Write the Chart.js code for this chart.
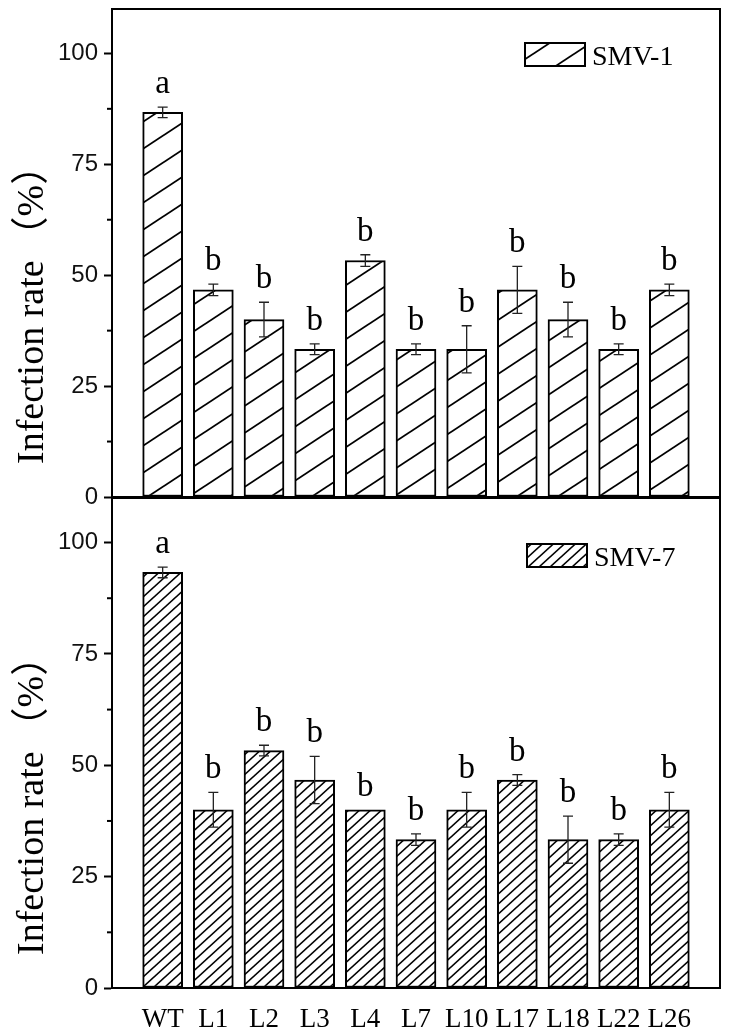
<!DOCTYPE html>
<html>
<head>
<meta charset="utf-8">
<script src="https://cdn.jsdelivr.net/npm/chart.js@4.4.1/dist/chart.umd.min.js"></script>
<style>
  html, body { margin: 0; padding: 0; background: #fff; }
  #wrap { position: relative; width: 733px; height: 1034px; }
  canvas { position: absolute; left: 0; }
</style>
</head>
<body>
<div id="wrap">
  <canvas id="topChart" width="733" height="515" style="top:0"></canvas>
  <canvas id="bottomChart" width="733" height="537" style="top:497px"></canvas>
</div>
<script>
const categories = ['WT', 'L1', 'L2', 'L3', 'L4', 'L7', 'L10', 'L17', 'L18', 'L22', 'L26'];
const smv1Values = [86.7, 46.7, 40.0, 33.3, 53.3, 33.3, 33.3, 46.7, 40.0, 33.3, 46.7];
const smv1Errors = [1.2, 1.3, 3.9, 1.2, 1.3, 1.2, 5.3, 5.3, 3.9, 1.2, 1.3];
const smv1Letters = ['a', 'b', 'b', 'b', 'b', 'b', 'b', 'b', 'b', 'b', 'b'];
const smv7Values = [93.3, 40.0, 53.3, 46.7, 40.0, 33.3, 40.0, 46.7, 33.3, 33.3, 40.0];
const smv7Errors = [1.2, 3.9, 1.2, 5.3, 0, 1.3, 3.9, 1.2, 5.3, 1.3, 3.9];
const smv7Letters = ['a', 'b', 'b', 'b', 'b', 'b', 'b', 'b', 'b', 'b', 'b'];
const yLabelTicks = [0, 25, 50, 75, 100];
const yTitleMain = 'Infection rate';
const yTitleUnit = '（%）';

const serif = '"Liberation Serif", "Times New Roman", "Noto Sans CJK SC", serif';
const sans = '"Liberation Sans", Arial, sans-serif';

// diagonal hatch tile
function hatch(w, h, lw) {
  const c = document.createElement('canvas');
  c.width = w; c.height = h;
  const g = c.getContext('2d');
  g.fillStyle = '#fff';
  g.fillRect(0, 0, w, h);
  g.strokeStyle = '#000';
  g.lineWidth = lw;
  for (const k of [-1, 0, 1]) {
    g.beginPath();
    g.moveTo(-w, 2 * h + k * h);
    g.lineTo(2 * w, -h + k * h);
    g.stroke();
  }
  return g.createPattern(c, 'repeat');
}

const panelPlugin = {
  id: 'panel',
  afterDatasetsDraw(chart, args, opts) {
    const ctx = chart.ctx;
    const x = chart.scales.x, y = chart.scales.y;
    const area = chart.chartArea;
    ctx.save();
    // error bars
    ctx.strokeStyle = '#222';
    ctx.lineWidth = 1.3;
    opts.values.forEach((v, i) => {
      const e = opts.errors[i];
      if (!e) return;
      const cx = x.getPixelForValue(i + 1);
      const yt = y.getPixelForValue(v + e), yb = y.getPixelForValue(v - e);
      ctx.beginPath();
      ctx.moveTo(cx, yt); ctx.lineTo(cx, yb);
      ctx.moveTo(cx - 5, yt); ctx.lineTo(cx + 5, yt);
      ctx.moveTo(cx - 5, yb); ctx.lineTo(cx + 5, yb);
      ctx.stroke();
    });
    // significance letters
    ctx.fillStyle = '#000';
    ctx.font = '33px ' + serif;
    ctx.textAlign = 'center';
    ctx.textBaseline = 'alphabetic';
    opts.values.forEach((v, i) => {
      const cx = x.getPixelForValue(i + 1);
      const yt = y.getPixelForValue(v + opts.errors[i]);
      ctx.fillText(opts.letters[i], cx, yt - 14);
    });
    // minor ticks
    ctx.strokeStyle = '#000';
    ctx.lineWidth = 2;
    for (let t = 12.5; t < 110; t += 25) {
      const py = y.getPixelForValue(t);
      ctx.beginPath();
      ctx.moveTo(area.left - 5, py); ctx.lineTo(area.left, py);
      ctx.stroke();
    }
    // frame
    ctx.strokeRect(area.left, area.top, area.right - area.left, area.bottom - area.top);
    // legend
    const lx = area.left + opts.legendX, ly = area.top + opts.legendY;
    ctx.fillStyle = chart.data.datasets[0].backgroundColor;
    ctx.fillRect(lx, ly, 60, 23);
    ctx.lineWidth = 2;
    ctx.strokeRect(lx, ly, 60, 23);
    ctx.fillStyle = '#000';
    ctx.font = '28px ' + serif;
    ctx.textAlign = 'left';
    ctx.fillText(chart.data.datasets[0].label, lx + 67, ly + 22);
    // y title
    ctx.translate(43, area.bottom - 33);
    ctx.rotate(-Math.PI / 2);
    ctx.font = '38px ' + serif;
    ctx.textAlign = 'left';
    const w = ctx.measureText(yTitleMain).width;
    ctx.fillText(yTitleMain, 0, 0);
    ctx.fillText(yTitleUnit, w + 6, 0);
    ctx.restore();
  }
};

function panel(id, label, values, errors, letters, pattern, showX, pad, legendPos) {
  return new Chart(document.getElementById(id), {
    type: 'bar',
    data: {
      datasets: [{
        label: label,
        data: values.map((v, i) => ({ x: i + 1, y: v })),
        backgroundColor: pattern,
        borderColor: '#000',
        borderWidth: 2,
        borderSkipped: false,
        barThickness: 40
      }]
    },
    options: {
      responsive: false,
      animation: false,
      layout: { padding: pad },
      plugins: {
        legend: { display: false },
        tooltip: { enabled: false },
        panel: { values, errors, letters, legendX: legendPos[0], legendY: legendPos[1] }
      },
      scales: {
        x: {
          type: 'linear',
          offset: false,
          min: 0, max: 12,
          grid: { display: false },
          border: { display: true, color: '#000', width: 2 },
          ticks: {
            display: showX,
            stepSize: 1,
            autoSkip: false,
            maxRotation: 0,
            padding: 8,
            color: '#000',
            font: { family: serif, size: 27 },
            callback: v => categories[v - 1] || ''
          },
          afterFit: s => {
            s.height = showX ? 46 : 0;
            s.paddingLeft = 0; s.paddingRight = 0;
          }
        },
        y: {
          min: 0, max: 110,
          grid: {
            drawOnChartArea: false,
            drawTicks: true,
            tickLength: 8,
            tickWidth: 2,
            tickColor: c => yLabelTicks.includes(c.tick.value) ? '#000' : 'rgba(0,0,0,0)'
          },
          border: { display: true, color: '#000', width: 2 },
          ticks: {
            stepSize: 25,
            includeBounds: false,
            padding: 6,
            color: '#111',
            font: { family: sans, size: 24 },
            callback: v => yLabelTicks.includes(v) ? v : ''
          },
          afterFit: s => {
            s.width = 112;
            s.paddingTop = 0; s.paddingBottom = 0;
          }
        }
      }
    },
    plugins: [panelPlugin]
  });
}

panel('topChart', 'SMV-1', smv1Values, smv1Errors, smv1Letters, hatch(41, 27, 1.8), false,
  { top: 9, right: 13, bottom: 18, left: 0 }, [413, 34]);
panel('bottomChart', 'SMV-7', smv7Values, smv7Errors, smv7Letters, hatch(11, 10, 1.6), true,
  { top: 1, right: 13, bottom: 0, left: 0 }, [415, 46]);
</script>
</body>
</html>
